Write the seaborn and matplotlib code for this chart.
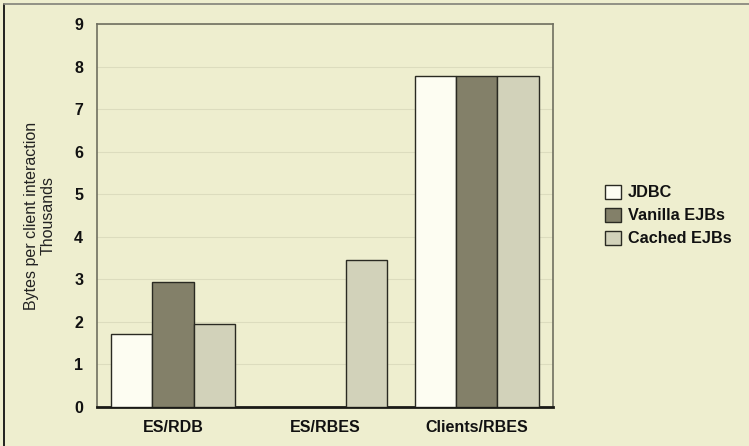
import numpy as np
import pandas as pd
import matplotlib
matplotlib.use('agg')
import matplotlib.pyplot as plt
import seaborn as sns
from matplotlib.lines import Line2D

sns.set_style('white')
plt.rcParams['font.family'] = ['Liberation Sans', 'DejaVu Sans']

categories = ['ES/RDB', 'ES/RBES', 'Clients/RBES']
series = ['JDBC', 'Vanilla EJBs', 'Cached EJBs']
jdbc = [1.71, 0.0, 7.77]
vanilla = [2.93, 0.0, 7.77]
cached = [1.96, 3.45, 7.77]

df = pd.DataFrame({
    'category': categories * 3,
    'series': [series[0]] * 3 + [series[1]] * 3 + [series[2]] * 3,
    'value': jdbc + vanilla + cached,
})

bg = '#EEEECF'
cmap = ['#FDFDF2', '#838069', '#D2D2BA']

fig = plt.figure(figsize=(7.49, 4.46), dpi=100, facecolor=bg)
ax = fig.add_axes([0.1295, 0.0874, 0.6085, 0.8586])
ax.set_facecolor(bg)

sns.barplot(data=df, x='category', y='value', hue='series', palette=cmap,
            width=0.815, edgecolor='#2a2a22', linewidth=1.0, saturation=1,
            ax=ax, zorder=3)

ax.set_ylim(0, 9)
ax.set_xlim(-0.5, 2.5)
ax.set_yticks(np.arange(0, 10, 1))
ax.yaxis.grid(True, color='#DCDCBE', linewidth=0.8, zorder=0)
ax.set_axisbelow(True)
ax.tick_params(axis='y', length=0, pad=10)
ax.tick_params(axis='x', length=0, pad=9)
for lab in ax.get_xticklabels() + ax.get_yticklabels():
    lab.set_fontweight('bold')
    lab.set_fontsize(11.5)
    lab.set_color('#111111')
ax.set_xlabel('')
ax.set_ylabel('Bytes per client interaction\nThousands', fontsize=11.5,
              labelpad=13, linespacing=1.15, color='#222222')

for side in ['top', 'right', 'left']:
    ax.spines[side].set_color('#6f6f60')
    ax.spines[side].set_linewidth(1.2)
ax.spines['bottom'].set_color('#1a1a16')
ax.spines['bottom'].set_linewidth(2.0)

leg = ax.legend(loc='center left', bbox_to_anchor=(1.083, 0.50), frameon=False,
                handlelength=0.95, handleheight=0.95, handletextpad=0.45,
                labelspacing=0.45, fontsize=11.7)
for t in leg.get_texts():
    t.set_fontweight('bold')
    t.set_color('#111111')

# outer chart frame: only the left and top edges show
fig.add_artist(Line2D([0.0055, 0.0055], [0.0, 0.99], transform=fig.transFigure,
                      color='#111111', linewidth=1.3))
fig.add_artist(Line2D([0.0055, 1.0], [0.99, 0.99], transform=fig.transFigure,
                      color='#8a8a80', linewidth=1.3))

fig.savefig('out.png', dpi=100, facecolor=bg)
